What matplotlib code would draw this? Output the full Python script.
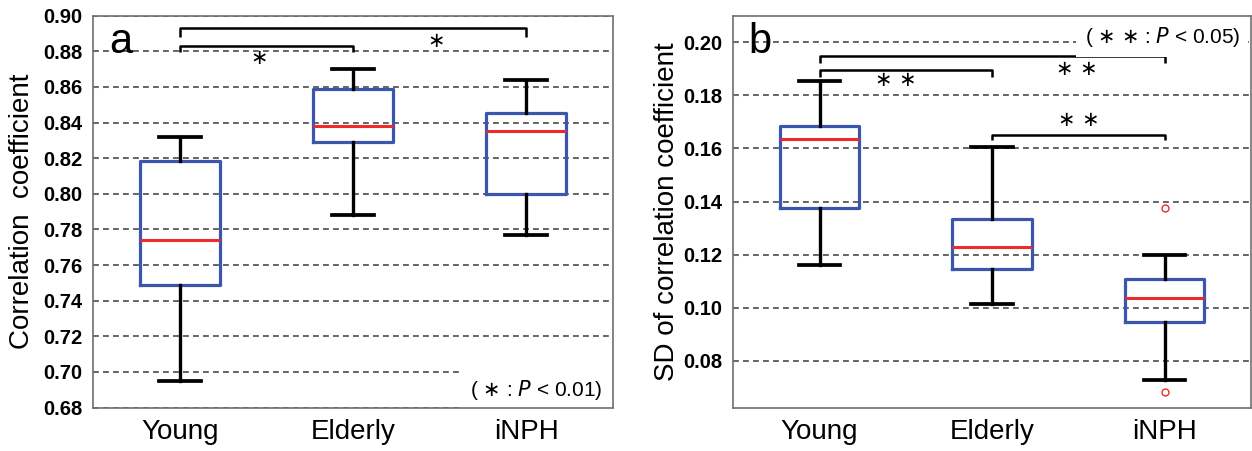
import matplotlib
matplotlib.use("Agg")
import matplotlib.pyplot as plt
import numpy as np

# ---------------- data ----------------
categories = ["Young", "Elderly", "iNPH"]

# panel a: correlation coefficient (whislo, q1, med, q3, whishi)
corr_whislo = [0.695, 0.788, 0.777]
corr_q1     = [0.749, 0.829, 0.800]
corr_med    = [0.774, 0.838, 0.835]
corr_q3     = [0.8185, 0.859, 0.8455]
corr_whishi = [0.832, 0.870, 0.864]
corr_fliers = [[], [], []]

# panel b: SD of correlation coefficient
sd_whislo = [0.116, 0.1015, 0.0727]
sd_q1     = [0.1374, 0.1147, 0.0947]
sd_med    = [0.1637, 0.1227, 0.1035]
sd_q3     = [0.1683, 0.1335, 0.1107]
sd_whishi = [0.1853, 0.1605, 0.1198]
sd_fliers = [[], [], [0.1374, 0.0683]]

corr_ticks = [0.68, 0.70, 0.72, 0.74, 0.76, 0.78, 0.80, 0.82, 0.84, 0.86, 0.88, 0.90]
sd_ticks = [0.08, 0.10, 0.12, 0.14, 0.16, 0.18, 0.20]

# significance brackets: (group i, group j, bar height, drop height, star text, star x, star y)
corr_brackets = [(0, 2, 0.893, 0.8878, "\u2217", 2.48, 0.8856),
                 (0, 1, 0.8832, 0.8794, "\u2217", 1.46, 0.8765)]
sd_brackets = [(0, 2, 0.1948, 0.1921, "\u2217 \u2217", 2.49, 0.1899),
               (0, 1, 0.1895, 0.1868, "\u2217 \u2217", 1.44, 0.1858),
               (1, 2, 0.1650, 0.1630, "\u2217 \u2217", 2.50, 0.1707)]

# ---------------- style ----------------
BLUE = "#3d56ad"
RED = "#ee2a2a"
GRID = "#4a4a4a"
SPINE = "#707070"
TXTFONT = ["Liberation Sans", "DejaVu Sans"]

fig = plt.figure(figsize=(12.52, 4.51), dpi=100)
axA = fig.add_axes([93.3 / 1252, 43.5 / 451, 519.4 / 1252, 391.8 / 451])
axB = fig.add_axes([733.3 / 1252, 43.5 / 451, 517.7 / 1252, 391.8 / 451])


def make_stats(lo, q1, med, q3, hi, fl):
    return [dict(whislo=lo[i], q1=q1[i], med=med[i], q3=q3[i], whishi=hi[i],
                 fliers=fl[i], label=categories[i]) for i in range(len(categories))]


def draw_panel(ax, stats, ticks, ylim, ylabel, letter, brackets, note, note_y, labelpad):
    positions = np.arange(1, len(categories) + 1)
    ax.set_axisbelow(True)
    ax.yaxis.grid(True, linestyle=(0, (3.5, 2.5)), color=GRID, linewidth=1.2)
    ax.bxp(stats, positions=positions, widths=0.46, capwidths=0.24,
           boxprops=dict(color=BLUE, linewidth=2.3),
           whiskerprops=dict(color="black", linewidth=2.4),
           capprops=dict(color="black", linewidth=2.7),
           medianprops=dict(color=RED, linewidth=2.2),
           flierprops=dict(marker="o", markerfacecolor="none", markeredgecolor=RED,
                           markersize=5, markeredgewidth=1.0, linestyle="none"),
           showfliers=True)
    ax.set_xlim(0.5, 3.5)
    ax.set_ylim(*ylim)
    ax.set_yticks(ticks)
    ax.set_yticklabels([f"{t:.2f}" for t in ticks], fontsize=14.5,
                       fontweight="bold", family=TXTFONT)
    ax.set_xticks(positions)
    ax.set_xticklabels(categories, fontsize=20, family=TXTFONT)
    ax.tick_params(axis="y", length=3, direction="in", pad=8, width=0.8, color=SPINE)
    ax.tick_params(axis="x", length=0, pad=8)
    for s in ax.spines.values():
        s.set_color(SPINE)
        s.set_linewidth(1.2)
    ax.set_ylabel(ylabel, fontsize=20, family=TXTFONT, labelpad=labelpad)
    ax.text(0.03, 0.985, letter, transform=ax.transAxes, fontsize=30,
            family=TXTFONT, va="top", ha="left")
    for (i, j, top, drop, star, sx, sy) in brackets:
        xi, xj = positions[i], positions[j]
        ax.plot([xi, xi, xj, xj], [drop, top, top, drop], color="black",
                linewidth=1.8, solid_capstyle="butt", clip_on=False)
        ax.text(sx, sy, star, fontsize=15, ha="center", va="center",
                family=["DejaVu Sans"])
    ax.text(0.979, note_y, note, transform=ax.get_yaxis_transform(),
            fontsize=15, ha="right", va="center", family=TXTFONT, zorder=2.2,
            bbox=dict(facecolor="white", edgecolor="none", pad=6))


statsA = make_stats(corr_whislo, corr_q1, corr_med, corr_q3, corr_whishi, corr_fliers)
statsB = make_stats(sd_whislo, sd_q1, sd_med, sd_q3, sd_whishi, sd_fliers)

draw_panel(axA, statsA, corr_ticks, (0.68, 0.8995), "Correlation  coefficient", "a",
           corr_brackets, "( $\\ast$ : $\\it{P}$ < 0.01)", 0.6898, 6)
draw_panel(axB, statsB, sd_ticks, (0.0624, 0.2100), "SD of correlation coefficient", "b",
           sd_brackets, "( $\\ast$ $\\ast$ : $\\it{P}$ < 0.05)", 0.2021, 2)

fig.savefig("out.png", dpi=100)
